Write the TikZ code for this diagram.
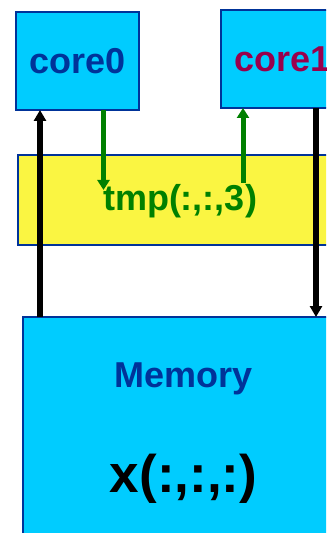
\documentclass[tikz,border=0pt]{standalone}
\usepackage{fontspec}
\setmainfont{Liberation Sans}
\usetikzlibrary{arrows.meta}
\definecolor{boxcyan}{RGB}{0,204,255}
\definecolor{boxblue}{RGB}{0,51,153}
\definecolor{baryellow}{RGB}{250,245,66}
\definecolor{coremaroon}{RGB}{153,0,76}
\definecolor{dgreen}{RGB}{0,128,0}
\begin{document}
\begin{tikzpicture}[x=1bp,y=-1bp,
  box/.style={draw=boxblue, line width=1.5bp, fill=boxcyan, inner sep=0pt, outer sep=0pt},
  ybar/.style={draw=boxblue, line width=1.2bp, fill=baryellow, inner sep=0pt, outer sep=0pt},
  lbl/.style={font=\fontsize{36bp}{40bp}\selectfont\bfseries, inner sep=0pt, anchor=base},
  biglbl/.style={font=\fontsize{53bp}{58bp}\selectfont\bfseries, inner sep=0pt, anchor=base},
  blk/.style={draw=black, line width=5.5bp, -{Triangle[length=11bp,width=12bp]}},
  grn/.style={draw=dgreen, line width=5bp, -{Triangle[length=10bp,width=12bp]}}]
\useasboundingbox (0,0) rectangle (326,533);
\clip (0,0) rectangle (326,533);
% boxes
\node[box, minimum width=123bp, minimum height=98bp] (core0) at (77.5,61) {};
\node[box, minimum width=124bp, minimum height=98bp] (core1) at (283,59) {};
\node[ybar, minimum width=327bp, minimum height=90bp] (tmp) at (181.5,200) {};
\node[box, minimum width=322bp, minimum height=243bp] (mem) at (184,438.5) {};
% column coordinates
\coordinate (colA) at (40,0);
\coordinate (colB) at (103.5,0);
\coordinate (colC) at (243,0);
\coordinate (colD) at (316,0);
\coordinate (gtip) at (103.5,190);
\coordinate (gstart) at (243,183);
% connectors
\draw[blk] (mem.north -| colA) -- (core0.south -| colA);
\draw[blk] (core1.south -| colD) -- (mem.north -| colD);
\draw[grn] (core0.south -| colB) -- (gtip);
\draw[grn] (gstart) -- (core1.south -| colC);
% labels
\node[lbl, text=boxblue] (t0) at (77.5,74) {core0};
\node[lbl, text=coremaroon, anchor=base west] (t1) at (234,72) {core1};
\node[lbl, text=dgreen] (ttmp) at (180,211) {tmp(:,:,3)};
\node[lbl, text=boxblue] (tmem) at (183.5,387) {Memory};
\node[biglbl, text=black] (tx) at (183.5,492) {x(:,:,:)};
\end{tikzpicture}
\end{document}
